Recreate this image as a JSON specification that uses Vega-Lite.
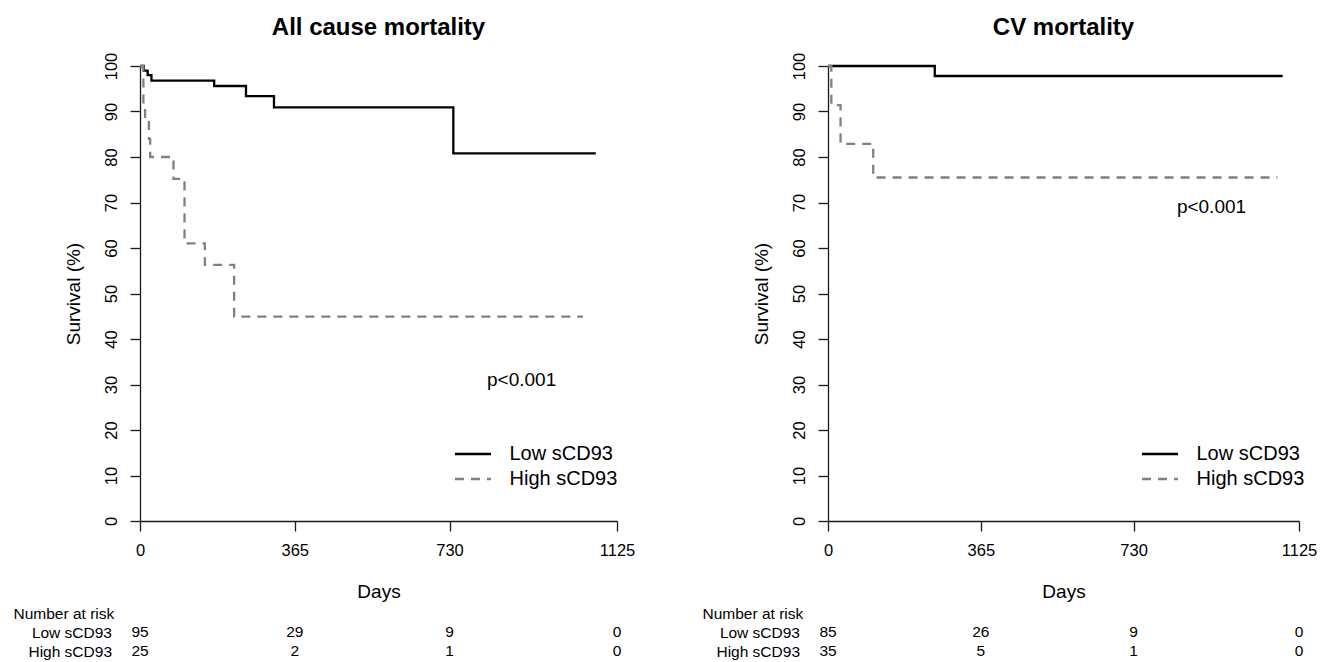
{
  "$schema": "https://vega.github.io/schema/vega-lite/v6.json",
  "padding": {"left": 13, "top": 16, "right": 5, "bottom": 0},
  "bounds": "flush",
  "spacing": 688,
  "resolve": {"scale": {"color": "independent", "strokeDash": "independent"}, "legend": {"color": "independent", "strokeDash": "independent"}},
  "datasets": {
    "km": [
      {"panel": "All", "group": "Low sCD93", "day": 0, "survival": 100},
      {"panel": "All", "group": "Low sCD93", "day": 9, "survival": 99},
      {"panel": "All", "group": "Low sCD93", "day": 18, "survival": 98},
      {"panel": "All", "group": "Low sCD93", "day": 27, "survival": 96.8},
      {"panel": "All", "group": "Low sCD93", "day": 175, "survival": 95.6},
      {"panel": "All", "group": "Low sCD93", "day": 250, "survival": 93.4},
      {"panel": "All", "group": "Low sCD93", "day": 316, "survival": 90.9},
      {"panel": "All", "group": "Low sCD93", "day": 739, "survival": 80.8},
      {"panel": "All", "group": "Low sCD93", "day": 1075, "survival": 80.8},
      {"panel": "All", "group": "High sCD93", "day": 0, "survival": 100},
      {"panel": "All", "group": "High sCD93", "day": 8, "survival": 92},
      {"panel": "All", "group": "High sCD93", "day": 12, "survival": 88},
      {"panel": "All", "group": "High sCD93", "day": 21, "survival": 84},
      {"panel": "All", "group": "High sCD93", "day": 24, "survival": 80},
      {"panel": "All", "group": "High sCD93", "day": 79, "survival": 75.2},
      {"panel": "All", "group": "High sCD93", "day": 105, "survival": 61},
      {"panel": "All", "group": "High sCD93", "day": 153, "survival": 56.3},
      {"panel": "All", "group": "High sCD93", "day": 222, "survival": 44.9},
      {"panel": "All", "group": "High sCD93", "day": 1045, "survival": 44.9},
      {"panel": "CV", "group": "Low sCD93", "day": 0, "survival": 100},
      {"panel": "CV", "group": "Low sCD93", "day": 255, "survival": 97.8},
      {"panel": "CV", "group": "Low sCD93", "day": 1086, "survival": 97.8},
      {"panel": "CV", "group": "High sCD93", "day": 0, "survival": 100},
      {"panel": "CV", "group": "High sCD93", "day": 8, "survival": 91.4},
      {"panel": "CV", "group": "High sCD93", "day": 30, "survival": 82.9},
      {"panel": "CV", "group": "High sCD93", "day": 108, "survival": 75.5},
      {"panel": "CV", "group": "High sCD93", "day": 1074, "survival": 75.5}
    ],
    "risk": [
      {"panel": "All", "group": "Low sCD93", "day": 0, "n": 95},
      {"panel": "All", "group": "Low sCD93", "day": 365, "n": 29},
      {"panel": "All", "group": "Low sCD93", "day": 730, "n": 9},
      {"panel": "All", "group": "Low sCD93", "day": 1125, "n": 0},
      {"panel": "All", "group": "High sCD93", "day": 0, "n": 25},
      {"panel": "All", "group": "High sCD93", "day": 365, "n": 2},
      {"panel": "All", "group": "High sCD93", "day": 730, "n": 1},
      {"panel": "All", "group": "High sCD93", "day": 1125, "n": 0},
      {"panel": "CV", "group": "Low sCD93", "day": 0, "n": 85},
      {"panel": "CV", "group": "Low sCD93", "day": 365, "n": 26},
      {"panel": "CV", "group": "Low sCD93", "day": 730, "n": 9},
      {"panel": "CV", "group": "Low sCD93", "day": 1125, "n": 0},
      {"panel": "CV", "group": "High sCD93", "day": 0, "n": 35},
      {"panel": "CV", "group": "High sCD93", "day": 365, "n": 5},
      {"panel": "CV", "group": "High sCD93", "day": 730, "n": 1},
      {"panel": "CV", "group": "High sCD93", "day": 1125, "n": 0}
    ]
  },
  "hconcat": [
    {
      "bounds": "flush",
      "spacing": 101.5,
      "vconcat": [
        {
          "width": 477,
          "height": 455,
          "title": "All cause mortality",
          "layer": [
            {
              "data": {"name": "km"},
              "transform": [{"filter": "datum.panel === 'All'"}],
              "mark": {"type": "line", "interpolate": "step-after", "strokeWidth": 2.3},
              "encoding": {
                "x": {"field": "day", "type": "quantitative", "scale": {"domain": [0, 1125], "nice": false, "zero": false}, "axis": {"values": [0, 365, 730, 1125], "format": "d", "title": "Days"}},
                "y": {"field": "survival", "type": "quantitative", "scale": {"domain": [0, 100], "nice": false}, "axis": {"values": [0, 10, 20, 30, 40, 50, 60, 70, 80, 90, 100], "title": "Survival (%)"}},
                "color": {"field": "group", "type": "nominal", "scale": {"domain": ["Low sCD93", "High sCD93"], "range": ["#000000", "#808080"]}, "legend": {"orient": "none", "legendX": 313.5, "legendY": 375.5, "title": null}},
                "strokeDash": {"field": "group", "type": "nominal", "scale": {"domain": ["Low sCD93", "High sCD93"], "range": [[1, 0], [9, 7]]}, "legend": {"orient": "none", "legendX": 313.5, "legendY": 375.5, "title": null}}
              }
            },
            {
              "data": {"values": [{"label": "p<0.001"}]},
              "mark": {"type": "text", "fontSize": 19, "align": "center", "baseline": "middle"},
              "encoding": {"x": {"datum": 900}, "y": {"datum": 31}, "text": {"field": "label"}}
            }
          ]
        },
        {
          "width": 477,
          "height": 38,
          "data": {"name": "risk"},
          "transform": [{"filter": "datum.panel === 'All'"}],
          "mark": {"type": "text", "fontSize": 15.5, "align": "center", "baseline": "middle"},
          "encoding": {
            "x": {"field": "day", "type": "quantitative", "scale": {"domain": [0, 1125], "nice": false, "zero": false}, "axis": null},
            "y": {"field": "group", "type": "nominal", "sort": ["Low sCD93", "High sCD93"], "scale": {"paddingInner": 0, "paddingOuter": 0},
                  "axis": {"domain": false, "ticks": false, "labelAngle": 0, "labelAlign": "right", "labelBaseline": "middle", "labelFontSize": 15.5, "labelPadding": 28.5,
                           "title": "Number at risk", "titleAngle": 0, "titleAlign": "left", "titleBaseline": "middle", "titleX": -127, "titleY": -9.5, "titleFontSize": 15.5}},
            "text": {"field": "n", "type": "quantitative"}
          }
        }
      ]
    },
    {
      "bounds": "flush",
      "spacing": 101.5,
      "vconcat": [
        {
          "width": 471,
          "height": 455,
          "title": "CV mortality",
          "layer": [
            {
              "data": {"name": "km"},
              "transform": [{"filter": "datum.panel === 'CV'"}],
              "mark": {"type": "line", "interpolate": "step-after", "strokeWidth": 2.3},
              "encoding": {
                "x": {"field": "day", "type": "quantitative", "scale": {"domain": [0, 1125], "nice": false, "zero": false}, "axis": {"values": [0, 365, 730, 1125], "format": "d", "title": "Days"}},
                "y": {"field": "survival", "type": "quantitative", "scale": {"domain": [0, 100], "nice": false}, "axis": {"values": [0, 10, 20, 30, 40, 50, 60, 70, 80, 90, 100], "title": "Survival (%)"}},
                "color": {"field": "group", "type": "nominal", "scale": {"domain": ["Low sCD93", "High sCD93"], "range": ["#000000", "#808080"]}, "legend": {"orient": "none", "legendX": 312.5, "legendY": 375.5, "title": null}},
                "strokeDash": {"field": "group", "type": "nominal", "scale": {"domain": ["Low sCD93", "High sCD93"], "range": [[1, 0], [9, 7]]}, "legend": {"orient": "none", "legendX": 312.5, "legendY": 375.5, "title": null}}
              }
            },
            {
              "data": {"values": [{"label": "p<0.001"}]},
              "mark": {"type": "text", "fontSize": 19, "align": "center", "baseline": "middle"},
              "encoding": {"x": {"datum": 916}, "y": {"datum": 69}, "text": {"field": "label"}}
            }
          ]
        },
        {
          "width": 471,
          "height": 38,
          "data": {"name": "risk"},
          "transform": [{"filter": "datum.panel === 'CV'"}],
          "mark": {"type": "text", "fontSize": 15.5, "align": "center", "baseline": "middle"},
          "encoding": {
            "x": {"field": "day", "type": "quantitative", "scale": {"domain": [0, 1125], "nice": false, "zero": false}, "axis": null},
            "y": {"field": "group", "type": "nominal", "sort": ["Low sCD93", "High sCD93"], "scale": {"paddingInner": 0, "paddingOuter": 0},
                  "axis": {"domain": false, "ticks": false, "labelAngle": 0, "labelAlign": "right", "labelBaseline": "middle", "labelFontSize": 15.5, "labelPadding": 28.5,
                           "title": "Number at risk", "titleAngle": 0, "titleAlign": "left", "titleBaseline": "middle", "titleX": -126, "titleY": -9.5, "titleFontSize": 15.5}},
            "text": {"field": "n", "type": "quantitative"}
          }
        }
      ]
    }
  ],
  "config": {
    "font": "Liberation Sans",
    "view": {"stroke": null},
    "axis": {"grid": false, "domainColor": "#1a1a1a", "tickColor": "#1a1a1a", "domainWidth": 1.3, "tickWidth": 1.3, "tickSize": 10,
             "labelFontSize": 16.5, "labelColor": "#000000", "titleFontSize": 19, "titleFontWeight": "normal", "titleColor": "#000000",
             "labelFlush": false, "labelOverlap": false},
    "axisX": {"labelPadding": 11, "titlePadding": 24},
    "axisY": {"labelAngle": -90, "labelAlign": "center", "labelBaseline": "bottom", "labelPadding": 11, "titlePadding": 20},
    "title": {"fontSize": 24, "fontWeight": "bold", "color": "#000000", "offset": 12, "anchor": "middle"},
    "text": {"color": "#000000"},
    "legend": {"labelFontSize": 20, "labelColor": "#000000", "symbolType": "stroke", "symbolSize": 1296, "symbolStrokeWidth": 2.3, "labelOffset": 17, "rowPadding": 0, "padding": 0, "clipHeight": 25}
  }
}
